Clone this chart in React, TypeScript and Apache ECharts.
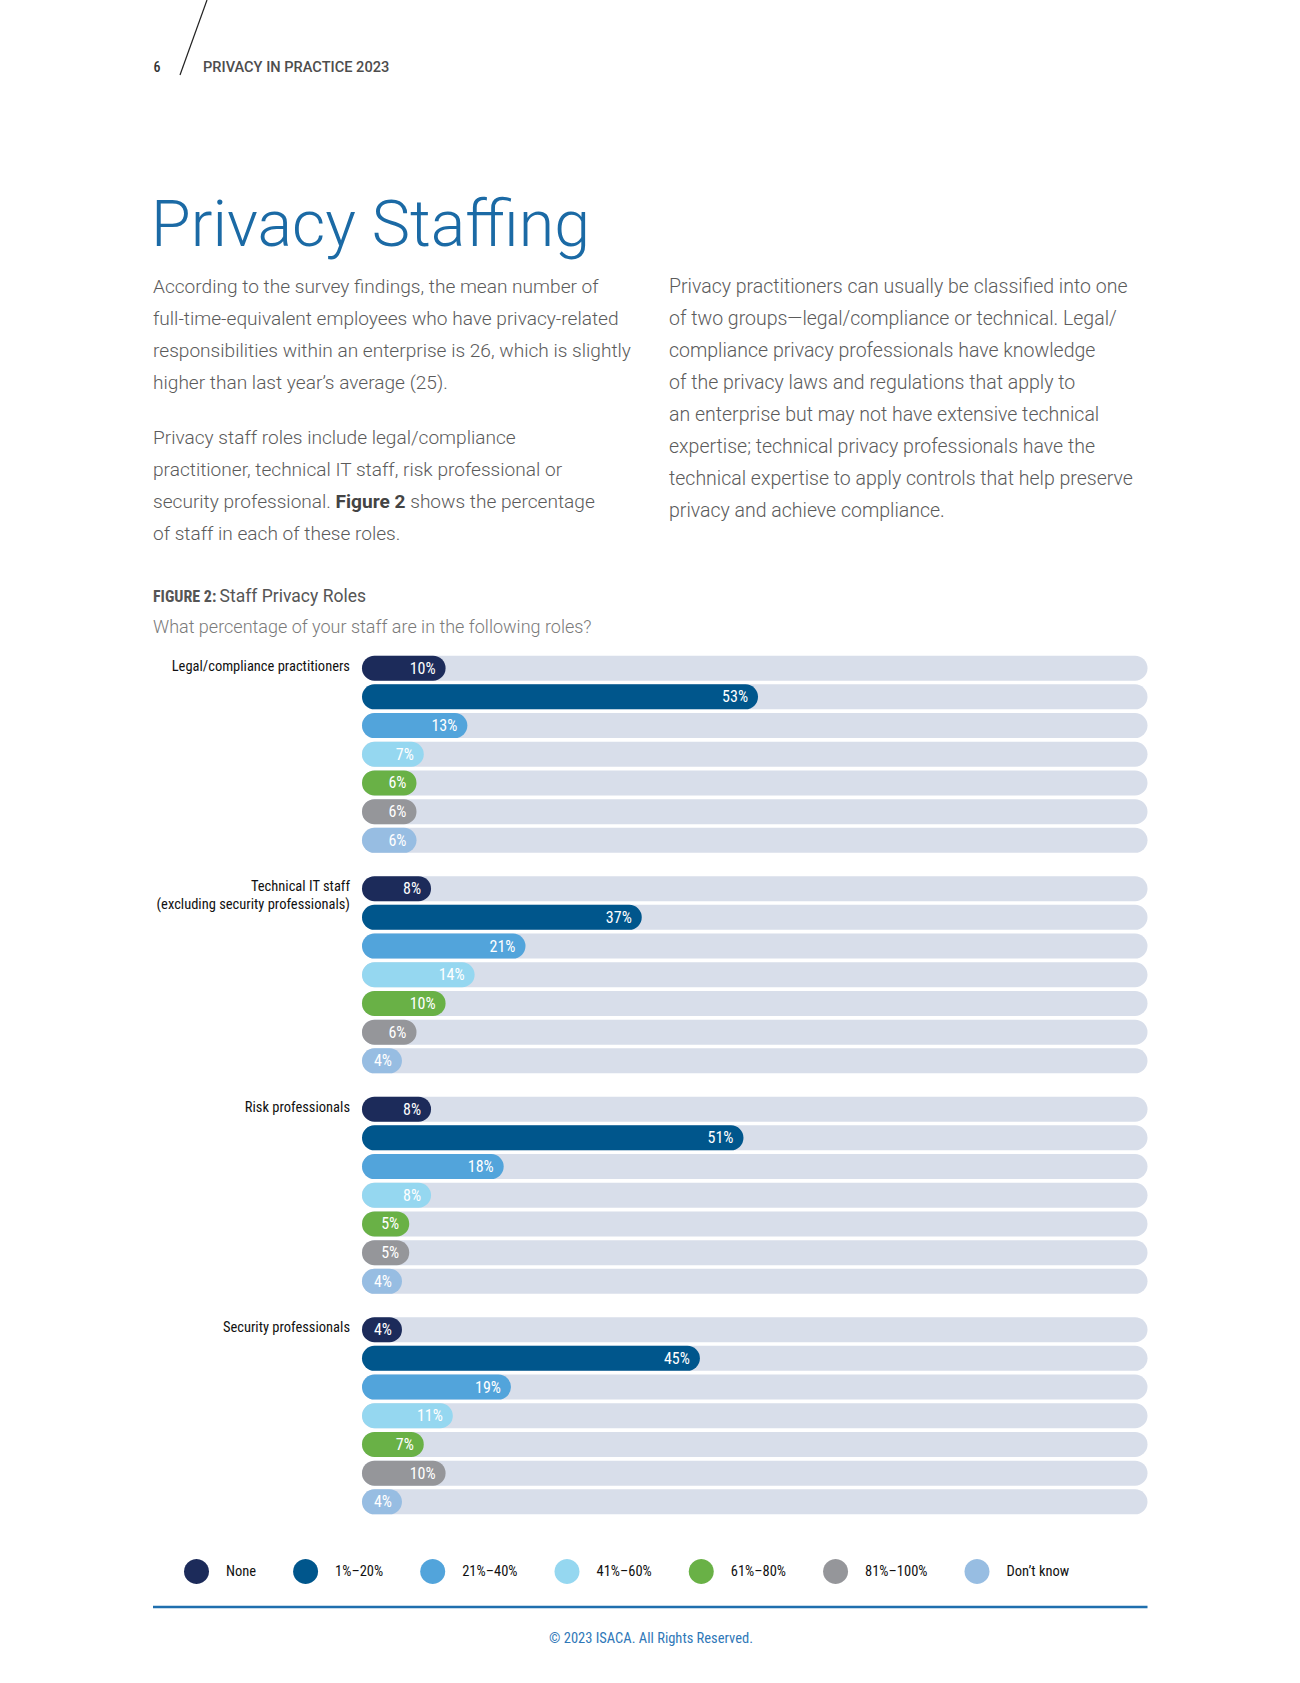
import React, { useEffect, useRef } from "react";
import * as echarts from "echarts";

// ---- data ----
const roles = [
  "Legal/compliance practitioners",
  "Technical IT staff\n(excluding security professionals)",
  "Risk professionals",
  "Security professionals",
];
const answerLevels = ["None", "1%–20%", "21%–40%", "41%–60%", "61%–80%", "81%–100%", "Don’t know"];
const noneValues = [10, 8, 8, 4];
const pct1to20 = [53, 37, 51, 45];
const pct21to40 = [13, 21, 18, 19];
const pct41to60 = [7, 14, 8, 11];
const pct61to80 = [6, 10, 5, 7];
const pct81to100 = [6, 6, 5, 10];
const dontKnow = [6, 4, 4, 4];
const seriesValues = [noneValues, pct1to20, pct21to40, pct41to60, pct61to80, pct81to100, dontKnow];
const levelColors = ["#1c2b5a", "#00568c", "#52a4db", "#95d7f0", "#69b146", "#95969a", "#97bde2"];
const trackColor = "#d8deea";

const para1 = [
  "According to the survey findings, the mean number of",
  "full-time-equivalent employees who have privacy-related",
  "responsibilities within an enterprise is 26, which is slightly",
  "higher than last year’s average (25).",
];
const para2 = [
  "Privacy staff roles include legal/compliance",
  "practitioner, technical IT staff, risk professional or",
  "security professional. {b|Figure 2} shows the percentage",
  "of staff in each of these roles.",
];
const para3 = [
  "Privacy practitioners can usually be classified into one",
  "of two groups—legal/compliance or technical. Legal/",
  "compliance privacy professionals have knowledge",
  "of the privacy laws and regulations that apply to",
  "an enterprise but may not have extensive technical",
  "expertise; technical privacy professionals have the",
  "technical expertise to apply controls that help preserve",
  "privacy and achieve compliance.",
];

const condensed = "'Roboto Condensed', 'Liberation Sans Narrow', 'DejaVu Sans Condensed', Roboto, sans-serif";
const body = "Roboto, 'Noto Sans', 'Liberation Sans', sans-serif";

export default function App() {
  const ref = useRef<HTMLDivElement>(null);
  useEffect(() => {
    if (!ref.current) return;
    const chart = echarts.init(ref.current, undefined, { renderer: "svg" });
    const bodyText = {
      fill: "#5b5b5b",
      fontSize: 19.1,
      fontWeight: 300,
      fontFamily: body,
      lineHeight: 32,
      verticalAlign: "top",
      align: "left",
    };
    const option: any = {
      animation: false,
      backgroundColor: "#ffffff",
      grid: { left: 362, top: 644, width: 785.5, height: 882, containLabel: false, outerBoundsMode: "none" },
      xAxis: { type: "value", min: -1.5, max: 106.6, startValue: -1.5, show: false },
      yAxis: {
        type: "category",
        inverse: true,
        data: roles,
        axisLine: { show: false },
        axisTick: { show: false },
        splitLine: { show: false },
        axisLabel: {
          margin: 12,
          align: "right",
          color: "#111",
          fontFamily: condensed,
          fontSize: 14.5,
          fontWeight: 400,
          lineHeight: 17.6,
          formatter: (v: string) => {
            const lines = v.split("\n");
            const blanks = 11 - lines.length;
            return lines.concat(Array(blanks).fill(" ")).join("\n");
          },
        },
      },
      legend: {
        data: answerLevels,
        left: 179,
        top: 1554,
        icon: "circle",
        itemWidth: 49,
        itemHeight: 25,
        itemGap: 37,
        textStyle: { color: "#111", fontFamily: condensed, fontSize: 14.5, fontWeight: 400 },
      },
      series: answerLevels.map((name, i) => ({
        type: "bar",
        name,
        data: seriesValues[i],
        barWidth: 25,
        barGap: "14.8%",
        itemStyle: { color: levelColors[i], borderRadius: 12.5 },
        showBackground: true,
        backgroundStyle: { color: trackColor, borderRadius: 12.5 },
        label: {
          show: true,
          position: "insideRight",
          distance: 10,
          formatter: "{c}%",
          color: "#ffffff",
          fontFamily: condensed,
          fontSize: 16,
          fontWeight: 400,
        },
      })),
      graphic: [
        { type: "line", shape: { x1: 207, y1: 0, x2: 180, y2: 75 }, style: { stroke: "#222", lineWidth: 1.2 } },
        {
          type: "text",
          x: 157,
          y: 67,
          style: { text: "6", fill: "#333", fontSize: 14, fontWeight: 500, fontFamily: condensed, align: "center", verticalAlign: "middle" },
        },
        {
          type: "text",
          x: 203,
          y: 67,
          style: {
            text: "PRIVACY IN PRACTICE 2023",
            fill: "#4d4d4d",
            fontSize: 14.6,
            fontWeight: 500,
            fontFamily: body,
            align: "left",
            verticalAlign: "middle",
          },
        },
        {
          type: "text",
          x: 151,
          y: 224,
          style: {
            text: "Privacy Staffing",
            fill: "#1b6aa5",
            fontSize: 64.5,
            fontWeight: 300,
            fontFamily: body,
            align: "left",
            verticalAlign: "middle",
          },
        },
        { type: "text", x: 153, y: 270, style: { ...bodyText, text: para1.join("\n") } },
        {
          type: "text",
          x: 153,
          y: 421,
          style: {
            ...bodyText,
            text: para2.join("\n"),
            rich: { b: { fontWeight: 700, fill: "#444", fontSize: 19.1, fontFamily: body, lineHeight: 32 } },
          },
        },
        { type: "text", x: 669, y: 270, style: { ...bodyText, fontSize: 19.5, text: para3.join("\n") } },
        {
          type: "text",
          x: 153,
          y: 596,
          style: {
            text: "{b|FIGURE 2:} {n|Staff Privacy Roles}",
            align: "left",
            verticalAlign: "middle",
            rich: {
              b: { fontFamily: condensed, fontWeight: 700, fontSize: 16, fill: "#555" },
              n: { fontFamily: body, fontWeight: 400, fontSize: 17.5, fill: "#555" },
            },
          },
        },
        {
          type: "text",
          x: 153,
          y: 626,
          style: {
            text: "What percentage of your staff are in the following roles?",
            fill: "#7a7a7a",
            fontSize: 18,
            fontWeight: 300,
            fontFamily: body,
            align: "left",
            verticalAlign: "middle",
          },
        },
        { type: "line", shape: { x1: 153, y1: 1607, x2: 1147.5, y2: 1607 }, style: { stroke: "#1f6fae", lineWidth: 2.5 } },
        {
          type: "text",
          x: 651,
          y: 1638,
          style: {
            text: "© 2023 ISACA. All Rights Reserved.",
            fill: "#2f78b8",
            fontSize: 14.5,
            fontFamily: condensed,
            align: "center",
            verticalAlign: "middle",
          },
        },
      ],
    };
    chart.setOption(option);
    return () => chart.dispose();
  }, []);
  return <div ref={ref} style={{ position: "absolute", left: 0, top: 0, width: 1300, height: 1683 }} />;
}
